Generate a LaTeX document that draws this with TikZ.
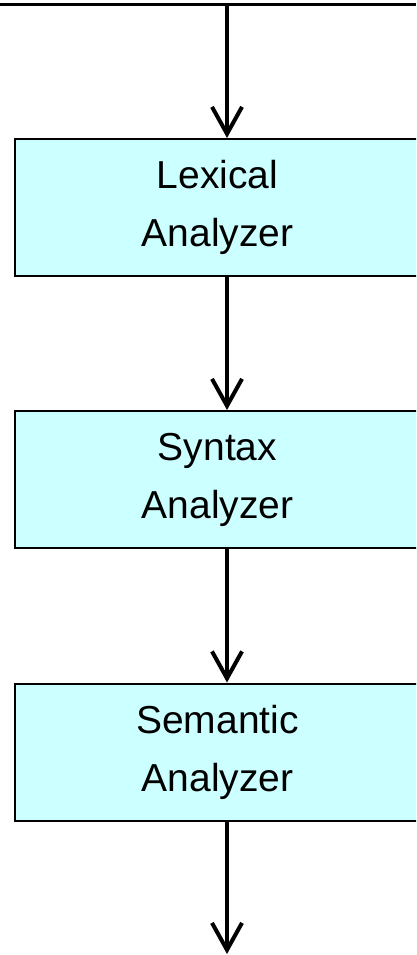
\documentclass[tikz,border=0pt]{standalone}
\usepackage{fontspec}
\setmainfont{Liberation Sans}
\usetikzlibrary{arrows.meta}
\definecolor{boxfill}{HTML}{CCFFFF}
\tikzset{
  stage/.style={draw=black, line width=2pt, fill=boxfill, minimum width=405pt,
    minimum height=137pt, inner sep=0pt, align=center,
    font=\fontsize{39}{58}\selectfont},
  flow/.style={line width=4pt, -{Straight Barb[length=27pt, width=30pt, line width=4pt]}}
}
\begin{document}
\begin{tikzpicture}[x=1pt, y=-1pt]
\useasboundingbox (0,0) rectangle (416,955);
\clip (0,0) rectangle (416,955);
% incoming bus line across the top
\draw[line width=3pt] (0,5) -- (416,5);
\coordinate (src) at (227,5);
\coordinate (sink) at (227,954);
% the three analysis stages
\node[stage] (lex) at (217.5,207.5) {Lexical\\Analyzer};
\node[stage] (syn) at (217.5,479.5) {Syntax\\Analyzer};
\node[stage] (sem) at (217.5,752) {Semantic\\Analyzer};
% data flow between stages
\draw[flow] (src) -- (src |- lex.north);
\draw[flow] (src |- lex.south) -- (src |- syn.north);
\draw[flow] (src |- syn.south) -- (src |- sem.north);
\draw[flow] (src |- sem.south) -- (sink);
\end{tikzpicture}
\end{document}
